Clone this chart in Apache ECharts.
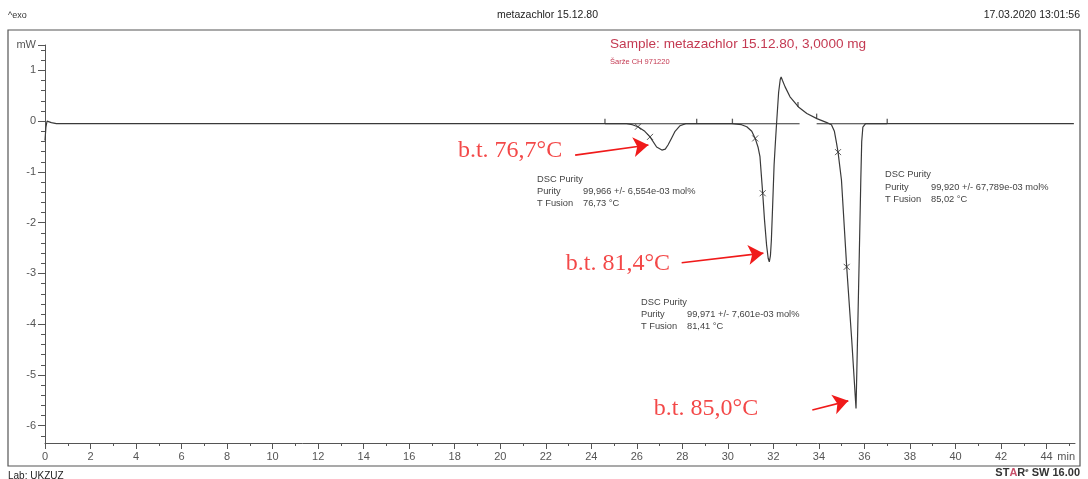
<!DOCTYPE html>
<html>
<head>
<meta charset="utf-8">
<script src="https://cdn.jsdelivr.net/npm/echarts@6/dist/echarts.min.js"></script>
<style>
  html, body { margin: 0; padding: 0; background: #fff; }
  #chart { width: 1088px; height: 479px; }
</style>
</head>
<body>
<div id="chart"></div>
<script>
// DSC heat-flow curve, metazachlor 15.12.80 (time in min, heat flow in mW, exo up)
const timeMin = [
  0, 0.04, 0.09, 0.16, 0.28, 0.5, 0.9,
  5, 10, 15, 20,
  25.55, 25.8, 26.05, 26.35, 26.58, 26.87, 27.1, 27.25, 27.37, 27.52, 27.68, 27.9, 28.15,
  30.17, 30.6, 30.83, 31.05, 31.2, 31.33, 31.41, 31.53, 31.61, 31.7, 31.77, 31.82, 31.87, 31.91,
  31.96, 32.03, 32.09, 32.14, 32.23, 32.3, 32.34, 32.4, 32.51, 32.73, 33.1, 33.47, 33.91, 34.35,
  34.55, 34.68, 34.76, 34.84, 34.99, 35.22, 35.44, 35.63, 35.7, 35.77, 35.84, 35.88, 35.93, 36.05,
  40, 45.2
];
const heatFlow = [
  -0.38, -0.12, 0.0, 0.01, -0.03, -0.05, -0.05,
  -0.05, -0.05, -0.05, -0.05,
  -0.05, -0.07, -0.11, -0.2, -0.31, -0.51, -0.57, -0.55, -0.47, -0.34, -0.2, -0.09, -0.05,
  -0.05, -0.07, -0.11, -0.2, -0.34, -0.52, -0.70, -1.42, -1.95, -2.44, -2.7, -2.77, -2.65, -2.35,
  -1.75, -0.87, -0.4, -0.04, 0.57, 0.82, 0.87, 0.8, 0.68, 0.48, 0.28, 0.15, 0.05, -0.03,
  -0.07, -0.2, -0.4, -0.61, -1.16, -2.87, -4.3, -5.66, -4.2, -2.7, -1.16, -0.4, -0.12, -0.05,
  -0.05, -0.05
];

// integration baselines under the peaks
const baselineA = [[24.6, -0.05], [33.15, -0.05]];
const baselineB = [[33.9, -0.05], [37.0, -0.05]];

// evaluation points (x) and limit flags
const crossTimes  = [26.05, 26.58, 31.2, 31.53, 34.84, 35.22];
const crossValues = [-0.11, -0.31, -0.34, -1.42, -0.61, -2.87];
const flagTimes   = [24.6, 28.63, 30.2, 33.08, 33.9, 37.0];
const flagValues  = [-0.05, -0.05, -0.05, 0.28, 0.05, -0.05];

// melting point notes: text anchor and arrow (from -> to), in axis units
const noteTexts  = ['b.t. 76,7°C', 'b.t. 81,4°C', 'b.t. 85,0°C'];
const noteAnchor = [[22.72, -0.59], [27.46, -2.80], [31.33, -5.67]];
const arrowFrom  = [[23.29, -0.67], [27.97, -2.79], [33.71, -5.69]];
const arrowTo    = [[26.51, -0.47], [31.56, -2.60], [35.29, -5.51]];

// tick labels
const xLabelValues = [0, 2, 4, 6, 8, 10, 12, 14, 16, 18, 20, 22, 24, 26, 28, 30, 32, 34, 36, 38, 40, 42, 44];
const xMinorValues = [1, 3, 5, 7, 9, 11, 13, 15, 17, 19, 21, 23, 25, 27, 29, 31, 33, 35, 37, 39, 41, 43, 45];
const yLabelValues = [-6, -5, -4, -3, -2, -1, 0, 1];
const yMinorValues = [];
for (let i = -31; i <= 7; i++) { if (i % 5 !== 0) yMinorValues.push(+(i * 0.2).toFixed(1)); }

const X_MIN = 0, X_MAX = 45.25, Y_MIN = -6.34, Y_MAX = 1.5;

const curve = timeMin.map((t, i) => [t, heatFlow[i]]);
const crosses = crossTimes.map((t, i) => [t, crossValues[i]]);
const flags = flagTimes.map((t, i) => [t, flagValues[i]]);
const notes = noteTexts.map((s, i) => [noteAnchor[i][0], noteAnchor[i][1], s]);
const arrows = arrowFrom.map((f, i) => [{ coord: f }, { coord: arrowTo[i] }]);

const SANS = '"Liberation Sans", Arial, sans-serif';
const RED = '#f01a1a';
const axisColor = '#555';

function purityBlock(left, top, purity, tFusion, lh) {
  const base = { fontFamily: SANS, fontSize: 9.3, fill: '#444', lineHeight: lh };
  return {
    type: 'text', left: left, top: top, z: 10,
    style: {
      text: '{t|DSC Purity}\n{k|Purity}{v|' + purity + '}\n{k|T Fusion}{v|' + tFusion + '}',
      rich: {
        t: Object.assign({}, base),
        k: Object.assign({ width: 46 }, base),
        v: Object.assign({}, base)
      },
      font: '9.3px ' + SANS, fill: '#444'
    }
  };
}

const chart = echarts.init(document.getElementById('chart'));
chart.setOption({
  animation: false,
  backgroundColor: '#fff',
  grid: { left: 45, right: 13, top: 45, bottom: 36, containLabel: false },
  xAxis: [
    {
      type: 'value', min: X_MIN, max: X_MAX, position: 'bottom',
      axisLine: { show: true, onZero: false, lineStyle: { color: axisColor, width: 1 } },
      axisTick: { show: true, customValues: xLabelValues, length: 6, lineStyle: { color: axisColor } },
      axisLabel: { show: true, customValues: xLabelValues, margin: 8, color: '#555', fontFamily: SANS, fontSize: 11 },
      splitLine: { show: false }
    },
    {
      type: 'value', min: X_MIN, max: X_MAX, position: 'bottom',
      axisLine: { show: false, onZero: false },
      axisTick: { show: true, customValues: xMinorValues, length: 3, lineStyle: { color: axisColor } },
      axisLabel: { show: false },
      splitLine: { show: false }
    }
  ],
  yAxis: [
    {
      type: 'value', min: Y_MIN, max: Y_MAX, position: 'left',
      axisLine: { show: true, onZero: false, lineStyle: { color: axisColor, width: 1 } },
      axisTick: { show: true, customValues: yLabelValues.concat([Y_MAX]), length: 7, lineStyle: { color: axisColor } },
      axisLabel: {
        show: true, customValues: yLabelValues.concat([Y_MAX]), margin: 9,
        color: '#555', fontFamily: SANS, fontSize: 11,
        formatter: v => (v > 1.45 ? 'mW' : String(Math.round(v)))
      },
      splitLine: { show: false }
    },
    {
      type: 'value', min: Y_MIN, max: Y_MAX, position: 'left',
      axisLine: { show: false, onZero: false },
      axisTick: { show: true, customValues: yMinorValues, length: 4, lineStyle: { color: axisColor } },
      axisLabel: { show: false },
      splitLine: { show: false }
    }
  ],
  series: [
    {
      name: 'baseline A', type: 'line', data: baselineA, symbol: 'none',
      lineStyle: { color: '#333', width: 1.1 }, silent: true, z: 2
    },
    {
      name: 'baseline B', type: 'line', data: baselineB, symbol: 'none',
      lineStyle: { color: '#333', width: 1.1 }, silent: true, z: 2
    },
    {
      name: 'heat flow', type: 'line', data: curve, symbol: 'none', smooth: false,
      lineStyle: { color: '#3a3a3a', width: 1.2 }, silent: true, z: 3
    },
    {
      name: 'evaluation points', type: 'scatter', data: crosses,
      symbol: 'path://M0,0L10,10M10,0L0,10', symbolSize: 6,
      itemStyle: { color: 'none', borderColor: '#333', borderWidth: 1 }, silent: true, z: 4
    },
    {
      name: 'limits', type: 'scatter', data: flags,
      symbol: 'rect', symbolSize: [1.3, 5], symbolOffset: [0, -2.5],
      itemStyle: { color: '#333' }, silent: true, z: 4
    },
    {
      name: 'notes', type: 'scatter', data: notes, symbolSize: 0, silent: true, z: 6,
      label: {
        show: true, position: 'left', distance: 0,
        formatter: p => p.data[2],
        color: RED, fontFamily: '"Liberation Serif", "Times New Roman", serif', fontSize: 24
      },
      markLine: {
        silent: true, animation: false,
        symbol: ['none', 'arrow'], symbolSize: 15,
        itemStyle: { color: RED },
        lineStyle: { color: RED, width: 1.6, type: 'solid' },
        label: { show: false },
        emphasis: { disabled: true },
        data: arrows
      }
    }
  ],
  graphic: [
    {
      type: 'rect', z: 0, silent: true,
      shape: { x: 8, y: 30, width: 1072, height: 436 },
      style: { fill: 'none', stroke: '#555', lineWidth: 1.2 }
    },
    { type: 'text', left: 8, top: 11, style: { text: '^exo', font: '9px ' + SANS, fill: '#333' } },
    { type: 'text', left: 497, top: 10, style: { text: 'metazachlor 15.12.80', font: '10.5px ' + SANS, fill: '#222' } },
    { type: 'text', right: 8, top: 10, style: { text: '17.03.2020 13:01:56', font: '10.5px ' + SANS, fill: '#222' } },
    { type: 'text', left: 610, top: 37, style: { text: 'Sample: metazachlor 15.12.80, 3,0000 mg', font: '13.6px ' + SANS, fill: '#c43a52' } },
    { type: 'text', left: 610, top: 58, style: { text: 'Šarže CH 971220', font: '7.5px ' + SANS, fill: '#c43a52' } },
    { type: 'text', right: 13, top: 451, style: { text: 'min', font: '11px ' + SANS, fill: '#555' } },
    { type: 'text', left: 8, top: 471, style: { text: 'Lab: UKZUZ', font: '10px ' + SANS, fill: '#222' } },
    {
      type: 'text', right: 8, top: 467,
      style: {
        text: '{a|ST}{r|A}{a|R}{e|e}{a| SW 16.00}',
        rich: {
          a: { fontFamily: SANS, fontSize: 11, fontWeight: 'bold', fill: '#333' },
          r: { fontFamily: SANS, fontSize: 11, fontWeight: 'bold', fill: '#c8506a' },
          e: { fontFamily: SANS, fontSize: 6, fontWeight: 'bold', fill: '#333', verticalAlign: 'top' }
        }
      }
    },
    purityBlock(537, 175, '99,966 +/- 6,554e-03 mol%', '76,73 °C', 12),
    purityBlock(641, 298, '99,971 +/- 7,601e-03 mol%', '81,41 °C', 12),
    purityBlock(885, 170, '99,920 +/- 67,789e-03 mol%', '85,02 °C', 12.5)
  ]
});
</script>
</body>
</html>
